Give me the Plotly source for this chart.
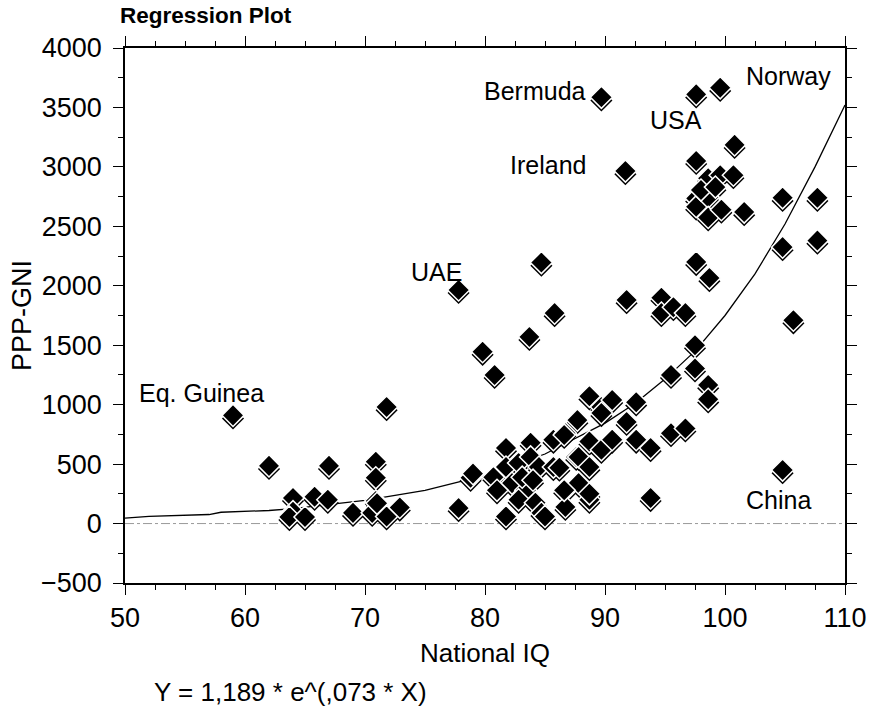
import plotly.graph_objects as go

# ---- data ----
iq = [59, 62, 67, 71.8, 70.9, 70.9, 64, 64, 63.7, 65, 65.8, 66.9, 69, 70.9, 70.6, 71.8, 71, 72.9,
      77.8, 78.8, 79, 77.8, 79.8, 80.8, 83.7, 84.7, 85.8, 81.75, 80.7, 81.75, 81.75, 82.8, 83.8,
      83.8, 84.5, 85.7, 86.7, 85.7, 82.25, 83.4, 81, 82.8, 84.2, 84.7, 83.1, 84, 86.7, 86.7, 87.6,
      87.7, 91.8, 94.7, 94.7, 95.7, 96.7, 97.5, 97.5, 98.6, 98.6, 95.5, 92.6, 91.8, 88.7, 89.7,
      90.6, 89.7, 86.6, 88.7, 89.7, 90.6, 92.6, 93.8, 95.5, 96.7, 87.8, 88.7, 86.2, 87.8, 86.6,
      88.7, 88.7, 93.8, 89.7, 91.7, 97.6, 99.6, 100.8, 97.6, 98.6, 99.6, 100.7, 97.6, 97.6, 98.6,
      98.6, 99.7, 98.0, 99.2, 101.6, 104.8, 107.7, 104.8, 107.7, 97.6, 98.7, 105.7, 104.8, 85.0]
gni = [910, 485, 485, 980, 520, 385, 215, 100, 55, 55, 225, 200, 90, 190, 90, 60, 170, 135,
       130, 385, 420, 1965, 1445, 1250, 1570, 2195, 1770, 635, 390, 475, 60, 510, 680,
       560, 475, 705, 760, 475, 340, 280, 280, 200, 175, 90, 390, 365, 280, 140, 560,
       870, 1880, 1900, 1770, 1820, 1770, 1500, 1305, 1165, 1045, 1250, 1020, 855, 1070, 980,
       1040, 930, 745, 690, 620, 705, 705, 635, 760, 800, 560, 475, 470, 340, 280,
       200, 250, 215, 3585, 2965, 3610, 3665, 3185, 3050, 2905, 2930, 2930, 2735, 2665, 2745,
       2575, 2640, 2805, 2830, 2620, 2740, 2740, 2325, 2380, 2200, 2065, 1710, 450, 60]

# regression curve Y = 1,189 * e^(,073 * X)
curve_x = [50, 52, 57, 58, 62, 64, 70, 75, 80, 85, 90, 92.5, 95, 97.5, 100, 102.5, 105, 107.5, 110]
curve_y = [46, 60, 76, 95, 110, 125, 195, 280, 405, 585, 845, 1010, 1215, 1450, 1750, 2100, 2520, 3000, 3520]

labels = ["Bermuda", "Norway", "USA", "Ireland", "UAE", "Eq. Guinea", "China"]
label_x = [88.6, 101.6, 95.9, 88.6, 73.7, 51.0, 101.6]
label_y = [3637, 3764, 3393, 3015, 2115, 1097, 200]
label_anchor = ["right", "left", "center", "right", "left", "left", "left"]

x_ticks = [50, 60, 70, 80, 90, 100, 110]
y_ticks = [-500, 0, 500, 1000, 1500, 2000, 2500, 3000, 3500, 4000]

FONT = "Liberation Sans, Arial, sans-serif"
shadow_offset = 26  # ~3px in data units

fig = go.Figure()

fig.add_shape(type="line", xref="x", yref="y", x0=50, x1=110, y0=0, y1=0,
              line=dict(color="#9a9a9a", width=1, dash="dashdot"), layer="below")

fig.add_trace(go.Scatter(x=curve_x, y=curve_y, mode="lines",
                         line=dict(color="black", width=1.3), hoverinfo="skip"))

fig.add_trace(go.Scatter(x=iq, y=[v - shadow_offset for v in gni], mode="markers",
                         marker=dict(symbol="diamond", size=17, color="black",
                                     line=dict(width=0)), hoverinfo="skip"))
fig.add_trace(go.Scatter(x=iq, y=gni, mode="markers",
                         marker=dict(symbol="diamond", size=17, color="black",
                                     line=dict(color="white", width=1.5))))

for t, x, y, a in zip(labels, label_x, label_y, label_anchor):
    fig.add_annotation(x=x, y=y, text=t, showarrow=False, xanchor=a, yanchor="middle",
                       font=dict(family=FONT, size=25, color="black"))

fig.add_annotation(xref="paper", yref="paper", x=-0.01, y=1.0, yanchor="middle", xanchor="left",
                   yshift=33, text="<b>Regression Plot</b>", showarrow=False,
                   font=dict(family=FONT, size=22.5, color="black"))
fig.add_annotation(xref="paper", yref="paper", x=0.037, y=0, xanchor="left", yanchor="middle",
                   yshift=-109, text="Y = 1,189 * e^(,073 * X)", showarrow=False,
                   font=dict(family=FONT, size=26, color="black"))

fig.update_layout(
    width=871, height=713,
    margin=dict(l=125, r=26, t=48, b=130),
    paper_bgcolor="white", plot_bgcolor="white",
    showlegend=False,
    font=dict(family=FONT, color="black"),
    xaxis=dict(range=[50, 110], tickvals=x_ticks, ticktext=[str(v) for v in x_ticks],
               automargin=False,
               showgrid=False, zeroline=False, showline=True, linecolor="black", linewidth=1.5,
               mirror="allticks", ticks="outside", ticklen=10, tickwidth=1.3, tickcolor="black",
               minor=dict(dtick=2.5, ticks="outside", ticklen=5, tickwidth=1, tickcolor="black"),
               tickfont=dict(size=27), title=dict(text="National IQ", font=dict(size=26), standoff=12)),
    yaxis=dict(range=[-500, 4000], tickvals=y_ticks,
               ticktext=[str(v).replace("-", "\u2212") for v in y_ticks],
               automargin=False, ticklabelstandoff=6,
               showgrid=False, zeroline=False, showline=True, linecolor="black", linewidth=1.5,
               mirror="allticks", ticks="outside", ticklen=10, tickwidth=1.3, tickcolor="black",
               minor=dict(dtick=250, ticks="outside", ticklen=5, tickwidth=1, tickcolor="black"),
               tickfont=dict(size=27), title=dict(text="PPP-GNI", font=dict(size=27), standoff=2)),
)

fig.write_html("out.html", config={"displayModeBar": False},
               post_script="document.body.style.margin='0';")
